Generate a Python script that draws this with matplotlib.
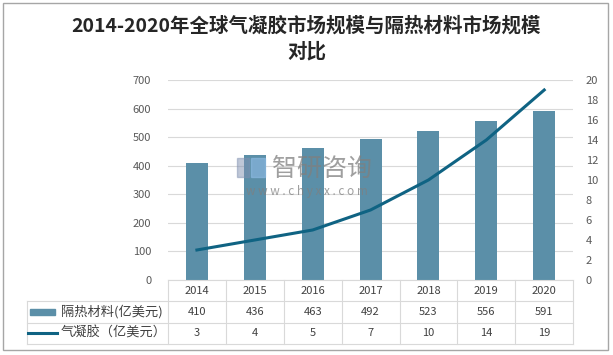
import matplotlib.pyplot as plt
from matplotlib.patches import Rectangle

plt.rcParams['font.family'] = ['Noto Sans CJK SC', 'DejaVu Sans']

# data
years = ['2014', '2015', '2016', '2017', '2018', '2019', '2020']
insul = [410, 436, 463, 492, 523, 556, 591]      # 隔热材料(亿美元)
aerogel = [3, 4, 5, 7, 10, 14, 19]               # 气凝胶（亿美元）
lbl_bar = '隔热材料(亿美元)'
lbl_line = '气凝胶（亿美元）'
title1 = '2014-2020年全球气凝胶市场规模与隔热材料市场规模'
title2 = '对比'

bar_col = '#5b8fa8'
line_col = '#0f6383'
grid_col = '#d9d9d9'
txt_col = '#595959'

fig = plt.figure(figsize=(6.13, 3.55), dpi=100)
fig.patches.append(Rectangle((0.005, 0.014), 0.987, 0.977, transform=fig.transFigure,
                             fill=False, edgecolor='#a6a6a6', lw=1.0))

ax = fig.add_axes([0.274, 0.2113, 0.661, 0.5634])
x = list(range(len(years)))
ax.bar(x, insul, width=0.38, color=bar_col, zorder=2)
ax.set_xlim(-0.5, len(years) - 0.5)
ax.set_ylim(0, 700)
ax.set_yticks(range(0, 701, 100))
ax.yaxis.grid(True, color=grid_col, lw=0.8, zorder=0)
ax.set_axisbelow(True)
ax.set_xticks([])
for s in ax.spines.values():
    s.set_visible(False)
ax.tick_params(axis='y', length=0, labelsize=8, labelcolor=txt_col, pad=12)

ax2 = ax.twinx()
ax2.plot(x, aerogel, color=line_col, lw=2.2, zorder=3)
ax2.set_ylim(0, 20)
ax2.set_yticks(range(0, 21, 2))
for s in ax2.spines.values():
    s.set_visible(False)
ax2.tick_params(axis='y', length=0, labelsize=8, labelcolor=txt_col, pad=9)

fig.text(0.5, 0.927, title1, fontsize=14, fontweight='bold', color='#262626', ha='center', va='center')
fig.text(0.5, 0.854, title2, fontsize=14, fontweight='bold', color='#262626', ha='center', va='center')

# data table under the plot, in axes coordinates
n = len(years)
rh = 0.107
left = -0.348
tk = dict(transform=ax.transAxes, clip_on=False, color=grid_col, lw=0.8)
ys = [0, -rh, -2 * rh, -3 * rh]
ax.plot([0, 1], [0, 0], **tk)
for yy in ys[1:]:
    ax.plot([left, 1], [yy, yy], **tk)
for i in range(n + 1):
    ax.plot([i / n, i / n], [0, ys[-1]], **tk)
ax.plot([left, left], [ys[1], ys[-1]], **tk)

rows = [years, [str(v) for v in insul], [str(v) for v in aerogel]]
for r, vals in enumerate(rows):
    yc = -(r + 0.5) * rh
    for i, v in enumerate(vals):
        ax.text((i + 0.5) / n, yc, v, transform=ax.transAxes, ha='center', va='center',
                fontsize=8, color='#404040')

yc1 = -1.5 * rh
yc2 = -2.5 * rh
ax.add_patch(Rectangle((-0.341, yc1 - 0.016), 0.062, 0.032, transform=ax.transAxes,
                       color=bar_col, clip_on=False))
ax.plot([-0.346, -0.274], [yc2, yc2], transform=ax.transAxes, color=line_col,
        lw=2.2, clip_on=False)
ax.text(-0.264, yc1, lbl_bar, transform=ax.transAxes, va='center', fontsize=9.5, color='#404040')
ax.text(-0.264, yc2, lbl_line, transform=ax.transAxes, va='center', fontsize=9.5, color='#404040')

# watermark
fig.text(0.526, 0.524, '智研咨询', fontsize=18, color='#7f7f7f', alpha=0.75, ha='center', va='center',
         zorder=10)
fig.text(0.501, 0.46, 'w w w . c h y x x . c o m', fontsize=8.5, color='#7f7f7f', alpha=0.75,
         ha='center', va='center', zorder=10)
fig.patches.append(Rectangle((0.387, 0.502), 0.02, 0.053, transform=fig.transFigure,
                             color='#8090b0', alpha=0.5, zorder=10))
fig.patches.append(Rectangle((0.409, 0.502), 0.023, 0.053, transform=fig.transFigure,
                             color='#8fbce6', alpha=0.6, zorder=10))

fig.savefig('out.png', dpi=100)
